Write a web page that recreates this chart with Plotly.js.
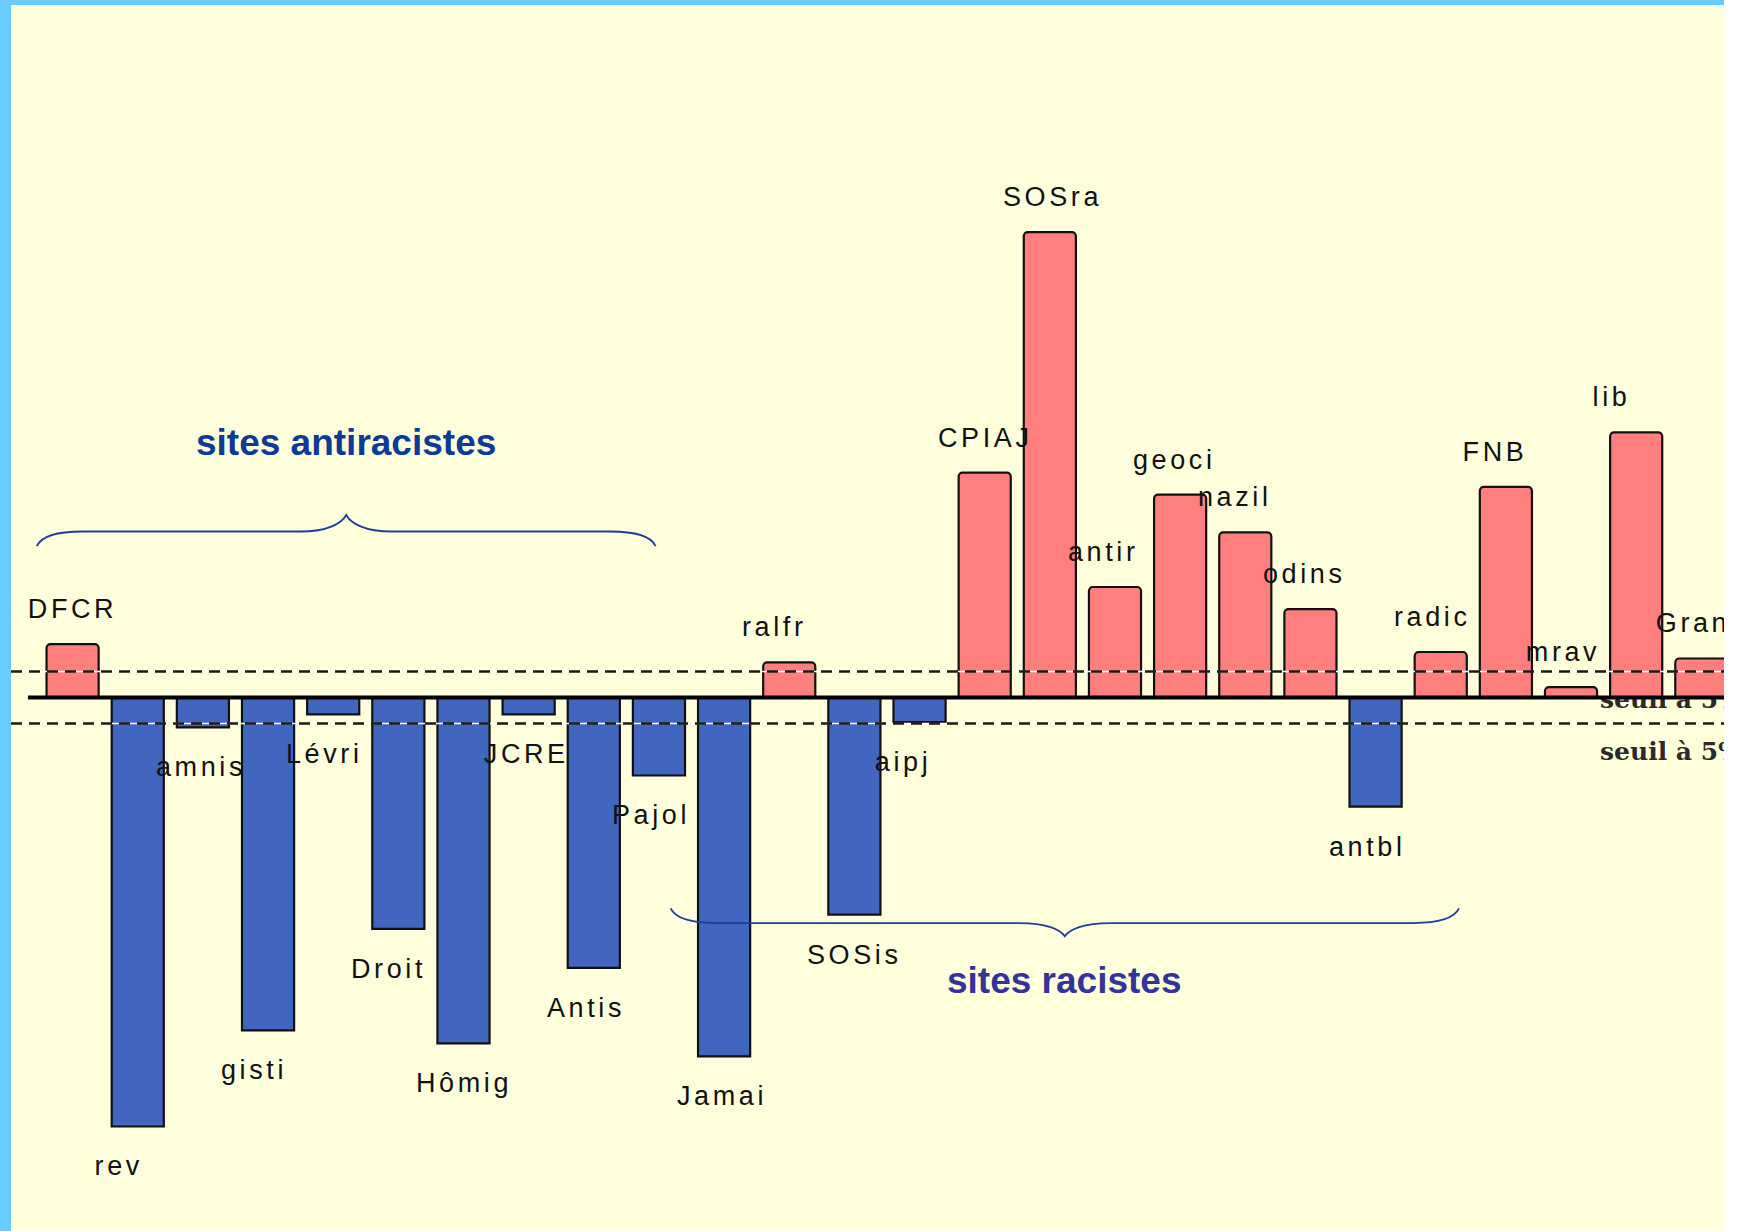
<!DOCTYPE html>
<html><head><meta charset="utf-8">
<script src="https://cdn.plot.ly/plotly-3.0.1.min.js"></script>
<style>
html,body{margin:0;padding:0;background:#ffffff;}
#frame{position:absolute;left:0;top:0;width:1724px;height:1231px;background:#66CCFF;}
#chart{position:absolute;left:11px;top:5px;width:1713px;height:1226px;}
#chart .annotation:not([data-index="0"]):not([data-index="1"]) .annotation-text{letter-spacing:3.6px;}
</style></head><body>
<div id="frame"><div id="chart"></div></div>
<script>
// ---- data ----
const categories = ["DFCR","rev","amnis","gisti","Lévri","Droit","Hômig","JCRE","Antis","Pajol",
  "Jamai","ralfr","SOSis","aipj","CPIAJ","SOSra","antir","geoci","nazil","odins",
  "antbl","radic","FNB","mrav","lib","Gran"];
const values = [4.1,-33.0,-2.3,-25.6,-1.3,-17.8,-26.6,-1.3,-20.8,-6.0,
  -27.6,2.7,-16.7,-1.9,17.3,35.8,8.5,15.6,12.7,6.8,
  -8.4,3.5,16.2,0.8,20.4,3.0];
const threshold = 2;
const thresholdLabel = "seuil à 5%";
const groupLabels = ["sites antiracistes", "sites racistes"];

// ---- layout constants ----
const xRange = [-0.9455, 25.348];
const yRange = [-41.04, 53.27];
const PINK = "#FF7F7F", BLUE = "#4066BF", CREAM = "#FFFFDC";

const idx = categories.map((c, i) => i);
const posVals = values.map(v => v > 0 ? v : null);
const negVals = values.map(v => v < 0 ? v : null);

const traces = [
  {type: "bar", x: idx, y: negVals, text: categories, hoverinfo: "none", textposition: "none",
   marker: {color: BLUE, line: {color: "#111", width: 2.2}}},
  {type: "bar", x: idx, y: posVals, text: categories, hoverinfo: "none", textposition: "none",
   marker: {color: PINK, cornerradius: 4, line: {color: "#111", width: 2.2}}},
  {type: "scatter", mode: "text", x: [23.445, 23.445],
   y: [threshold - 2.35, -threshold - 2.35], text: [thresholdLabel, thresholdLabel],
   textposition: "middle right", cliponaxis: true, hoverinfo: "none", yaxis: "y2",
   textfont: {family: "DejaVu Serif", size: 25, color: "#2a2a2a", weight: "bold"}}
];

function bracePath(x0, x1, yEnd, yFlat, yTip, dx) {
  const xm = (x0 + x1) / 2;
  const ym = yFlat + (yTip - yFlat) * 0.5;
  return `M${x0},${yEnd} Q${x0 + dx * 0.15},${yFlat} ${x0 + dx},${yFlat} ` +
    `L${xm - dx},${yFlat} C${xm - dx * 0.4},${yFlat} ${xm - dx * 0.1},${ym} ${xm},${yTip} ` +
    `C${xm + dx * 0.1},${ym} ${xm + dx * 0.4},${yFlat} ${xm + dx},${yFlat} ` +
    `L${x1 - dx},${yFlat} Q${x1 - dx * 0.15},${yFlat} ${x1},${yEnd}`;
}

const shapes = [];
[threshold, -threshold].forEach(t => {
  shapes.push({type: "line", xref: "paper", x0: 0, x1: 1, yref: "y", y0: t, y1: t, layer: "above",
    line: {color: "#ffffff", width: 1.3}});
  shapes.push({type: "line", xref: "paper", x0: 0, x1: 1, yref: "y", y0: t, y1: t, layer: "above",
    line: {color: "#1a1a1a", width: 2.6, dash: "11px,7px"}});
});
shapes.push({type: "line", xref: "x", yref: "y", x0: -0.685, x1: 26, y0: 0, y1: 0, layer: "above",
  line: {color: "#000", width: 4}});
shapes.push({type: "path", xref: "x", yref: "y", layer: "above",
  path: bracePath(-0.55, 8.95, 11.65, 12.77, 14.04, 0.7), line: {color: "#1f3d9c", width: 1.8}});
shapes.push({type: "path", xref: "x", yref: "y", layer: "above",
  path: bracePath(9.18, 21.28, -16.23, -17.35, -18.37, 0.7), line: {color: "#1f3d9c", width: 1.8}});

const annotations = [
  {x: 4.2, y: 19.58, xref: "x", yref: "y", text: groupLabels[0], showarrow: false,
   xanchor: "center", yanchor: "middle",
   font: {family: "Liberation Sans", size: 37, color: "#0B3A98", weight: "bold"}},
  {x: 15.23, y: -21.8, xref: "x", yref: "y", text: groupLabels[1], showarrow: false,
   xanchor: "center", yanchor: "middle",
   font: {family: "Liberation Sans", size: 37, color: "#33339A", weight: "bold"}}
];
categories.forEach((c, i) => {
  const v = values[i];
  annotations.push({x: i, y: v, xref: "x", yref: "y", text: c, showarrow: false,
    xanchor: "left", yanchor: "middle", xshift: -40, yshift: v > 0 ? 35 : -40,
    font: {family: "Liberation Sans", size: 27, color: "#111111"}});
});

const layout = {
  width: 1713, height: 1226,
  margin: {l: 0, r: 0, t: 0, b: 0, pad: 0},
  paper_bgcolor: CREAM, plot_bgcolor: "rgba(0,0,0,0)",
  showlegend: false, barmode: "overlay", bargap: 0.2,
  xaxis: {range: xRange, visible: false, fixedrange: true},
  yaxis: {range: yRange, visible: false, fixedrange: true, domain: [0, 1]},
  yaxis2: {range: [yRange[0], 0], domain: [0, 0.43515], visible: false, anchor: "x", fixedrange: true},
  shapes: shapes,
  annotations: annotations
};

Plotly.newPlot("chart", traces, layout, {displayModeBar: false, staticPlot: true});
</script>
</body></html>
